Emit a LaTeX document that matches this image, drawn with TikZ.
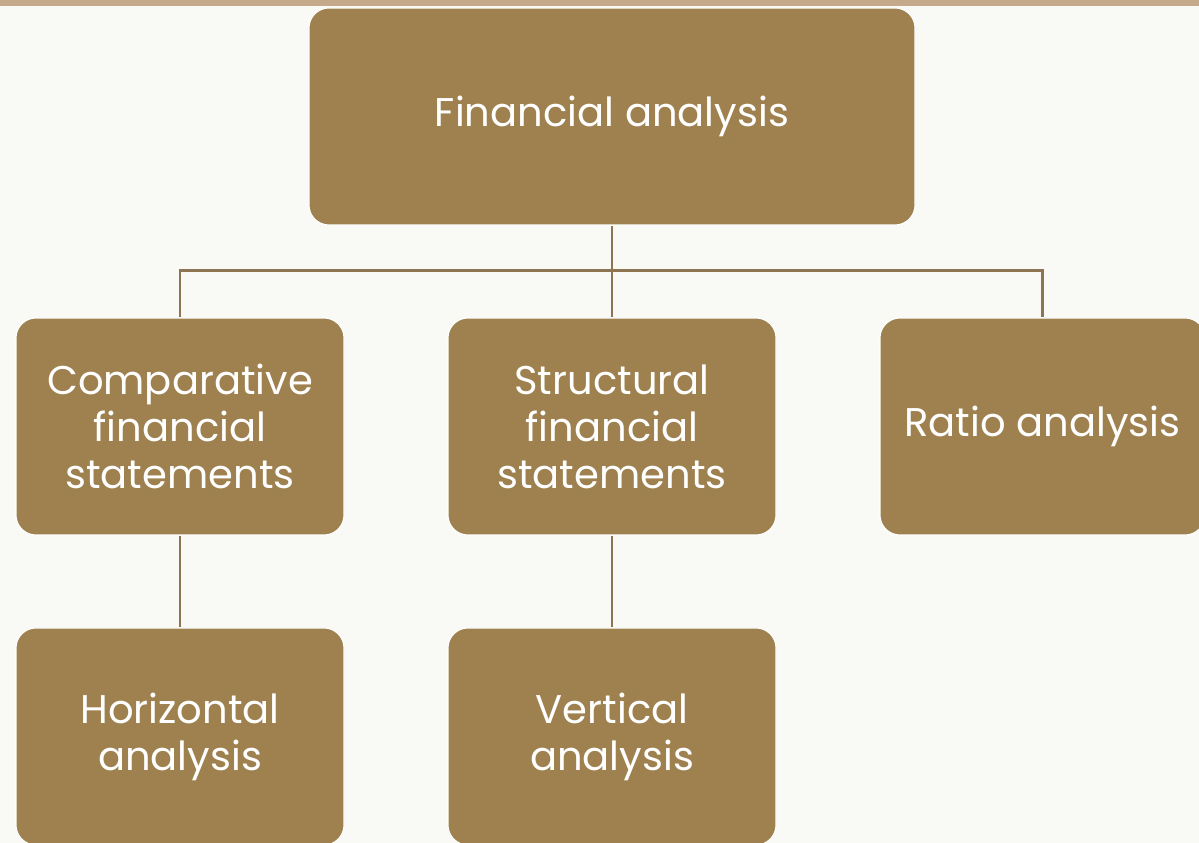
\documentclass[tikz,border=0pt]{standalone}
\usepackage{fontspec}
\setmainfont{Poppins}
\usetikzlibrary{positioning}

\definecolor{paper}{HTML}{F9F9F5}
\definecolor{strip}{HTML}{C4A98A}
\definecolor{boxfill}{HTML}{9E814F}
\definecolor{linkline}{HTML}{8C7550}

\tikzset{
	box/.style={rounded corners=0.4cm, fill=boxfill, draw=white, line width=0.6pt,
		text=white, align=center, inner sep=0pt,
		font=\fontsize{22.8}{26.7}\selectfont},
	bigbox/.style={box, minimum width=12.12cm, minimum height=4.34cm},
	smallbox/.style={box, minimum width=6.56cm, minimum height=4.34cm},
	link/.style={draw=linkline, line width=1.7pt}
}

\begin{document}
\begin{tikzpicture}
	% Hintergrund
	\fill[paper] (0,0) rectangle (23.98,16.86);
	\useasboundingbox (0,0) rectangle (23.98,16.86);
	\fill[strip] (0,16.74) rectangle (23.98,16.86);

	% Kaesten
	\node[bigbox] (fin) at (12.24, 14.53) {Financial analysis};
	\node[smallbox] (comp) at (3.6, 8.33) {Comparative\\financial\\statements};
	\node[smallbox] (struct) at (12.24, 8.33) {Structural\\financial\\statements};
	\node[smallbox, minimum width=6.5cm] (ratio) at (20.85, 8.33) {Ratio analysis};
	\node[smallbox] (horiz) at (3.6, 2.13) {Horizontal\\analysis};
	\node[smallbox] (vert) at (12.24, 2.13) {Vertical\\analysis};

	% Verbindungen
	\draw[link] (comp.north) -- ++(0,0.94) -| (ratio.north);
	\draw[link] (fin.south) -- (struct.north);
	\draw[link] (comp.south) -- (horiz.north);
	\draw[link] (struct.south) -- (vert.north);
\end{tikzpicture}
\end{document}
